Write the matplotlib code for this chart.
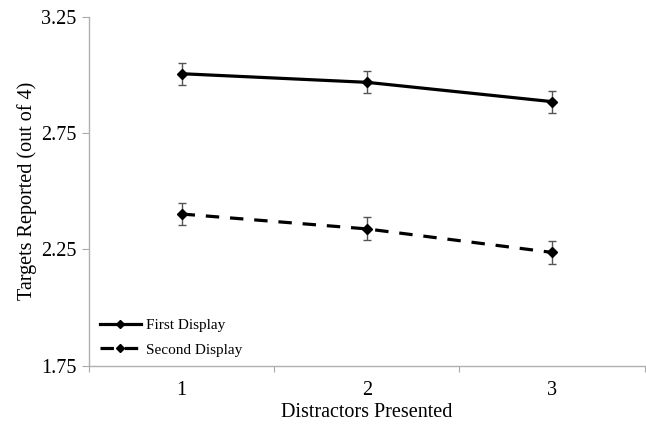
import numpy as np
import matplotlib.pyplot as plt

plt.rcParams['font.family'] = ['Liberation Serif', 'DejaVu Serif']

# distractors presented
distractors = [1, 2, 3]
first_display = [3.005, 2.968, 2.885]
first_err = [0.047, 0.048, 0.047]
second_display = [2.402, 2.338, 2.237]
second_err = [0.049, 0.049, 0.048]
yticks = [1.75, 2.25, 2.75, 3.25]

fig = plt.figure(figsize=(6.46, 4.25), dpi=100)
ax = fig.add_axes([0.1378, 0.1395, 0.86, 0.8212])

c1 = ax.errorbar(distractors, first_display, yerr=first_err, color='black', lw=2.3,
                 marker='D', ms=5, ecolor='#555555', elinewidth=1, capsize=3)
c2 = ax.errorbar(distractors, second_display, yerr=second_err, color='black', lw=2.3,
                 marker='D', ms=5, ecolor='#555555', elinewidth=1, capsize=3)
c2[0].set_dashes((4.2, 3.4))

ax.set_xlim(0.5, 3.5)
ax.set_ylim(1.75, 3.25)
ax.set_yticks(yticks)
ax.set_yticklabels(['%.2f' % v for v in yticks])
# category axis: ticks between categories, labels at centres
ax.set_xticks([0.5, 1.5, 2.5, 3.5])
ax.set_xticklabels([])
ax.set_xticks(distractors, minor=True)
ax.set_xticklabels([str(d) for d in distractors], minor=True)
ax.tick_params(axis='x', which='minor', length=0, pad=11, labelsize=14.5)
ax.tick_params(axis='x', which='major', length=4, color='#aaaaaa')
ax.tick_params(axis='y', length=5, color='#aaaaaa', labelsize=14.5, pad=4)

for s in ['top', 'right']:
    ax.spines[s].set_visible(False)
for s in ['left', 'bottom']:
    ax.spines[s].set_color('#b0b0b0')
    ax.spines[s].set_linewidth(1)

ax.set_xlabel('Distractors Presented', fontsize=14.5, labelpad=2)
ax.set_ylabel('Targets Reported (out of 4)', fontsize=14.5, labelpad=3)

leg = ax.legend([c1[0], c2[0]], ['First Display', 'Second Display'],
                loc='lower left', frameon=False, fontsize=11, handlelength=2.7,
                handletextpad=0.3, labelspacing=0.7, borderaxespad=0.2,
                bbox_to_anchor=(0.003, 0.0))
for h in leg.legend_handles:
    h.set_markersize(4)

fig.savefig('out.png', dpi=100)
